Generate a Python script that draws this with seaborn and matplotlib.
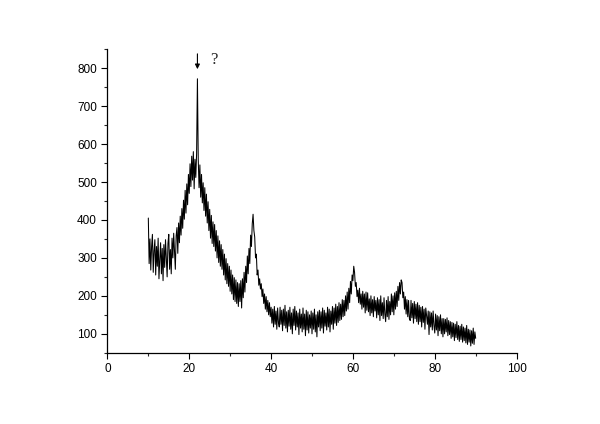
import numpy as np
import pandas as pd
import matplotlib
matplotlib.use("Agg")
import matplotlib.pyplot as plt
from matplotlib.ticker import MultipleLocator
import seaborn as sns

# scan range 10-90 deg, step 0.2
two_theta = np.round(np.arange(10.0, 90.01, 0.2), 1)

intensity = [
    405, 285, 350, 268, 330, 362, 262, 318, 348, 255,
    330, 278, 352, 245, 296, 340, 258, 325, 240, 335,
    275, 348, 300, 250, 338, 362, 270, 322, 258, 352,
    300, 365, 318, 270, 358, 380, 312, 392, 340, 410,
    360, 430, 378, 452, 402, 478, 418, 495, 440, 520,
    470, 548, 488, 568, 505, 580, 482, 560, 512, 575,
    772, 560, 485, 545, 460, 520, 445, 498, 425, 485,
    410, 468, 392, 448, 372, 428, 352, 412, 338, 395,
    330, 388, 318, 372, 300, 358, 288, 345, 278, 335,
    270, 322, 255, 310, 242, 298, 232, 285, 225, 278,
    212, 268, 205, 255, 190, 248, 185, 242, 180, 235,
    172, 232, 185, 240, 168, 245, 195, 262, 210, 278,
    235, 305, 258, 325, 285, 360, 330, 390, 415, 372,
    355, 300, 310, 255, 268, 228, 245, 218, 232, 198,
    218, 180, 205, 165, 198, 158, 188, 150, 182, 145,
    170, 128, 165, 118, 172, 125, 160, 112, 168, 130,
    118, 170, 125, 162, 108, 165, 122, 175, 115, 158,
    105, 162, 120, 170, 112, 155, 100, 165, 122, 172,
    110, 160, 118, 155, 98, 165, 115, 152, 105, 168,
    112, 152, 95, 162, 110, 158, 102, 150, 115, 160,
    100, 155, 112, 165, 105, 150, 92, 158, 118, 162,
    108, 158, 115, 168, 102, 162, 120, 155, 110, 170,
    118, 165, 105, 160, 125, 172, 112, 168, 128, 178,
    122, 172, 130, 182, 135, 178, 138, 190, 145, 188,
    148, 200, 160, 210, 165, 220, 182, 238, 205, 255,
    240, 278, 262, 225, 235, 198, 215, 182, 220, 178,
    205, 165, 212, 170, 205, 155, 210, 162, 208, 158,
    192, 148, 200, 155, 190, 145, 198, 160, 188, 142,
    195, 150, 190, 135, 200, 148, 182, 140, 195, 152,
    132, 188, 145, 198, 138, 185, 150, 205, 158, 200,
    150, 208, 165, 212, 172, 225, 188, 235, 205, 242,
    235, 195, 210, 165, 198, 152, 190, 145, 188, 140,
    135, 188, 142, 180, 128, 185, 140, 178, 132, 182,
    125, 175, 132, 170, 118, 172, 130, 165, 112, 168,
    148, 125, 160, 98, 158, 118, 155, 110, 160, 122,
    102, 152, 110, 148, 95, 145, 108, 150, 100, 140,
    92, 140, 100, 138, 105, 142, 95, 135, 98, 132,
    88, 130, 92, 128, 82, 125, 90, 132, 85, 122,
    80, 120, 85, 125, 78, 118, 82, 115, 76, 122,
    72, 112, 78, 110, 68, 108, 75, 115, 72, 105,
    88,
]

x_ticks = [0, 20, 40, 60, 80, 100]
y_ticks = [100, 200, 300, 400, 500, 600, 700, 800]

peak_x = 22.0
peak_label = "?"

sns.set_style("ticks")
plt.rcParams["font.family"] = ["Liberation Sans", "DejaVu Sans"]

df = pd.DataFrame({"two_theta": two_theta, "intensity": intensity})

fig = plt.figure(figsize=(6.0, 4.24), dpi=100)
ax = fig.add_axes([0.179, 0.168, 0.682, 0.716])

sns.lineplot(data=df, x="two_theta", y="intensity", ax=ax,
             color="black", linewidth=0.75, sort=False)

ax.set_xlim(0, 100)
ax.set_ylim(50, 850)
ax.set_xticks(x_ticks)
ax.set_yticks(y_ticks)
ax.xaxis.set_minor_locator(MultipleLocator(10))
ax.yaxis.set_minor_locator(MultipleLocator(50))
ax.tick_params(which="major", direction="out", length=4, width=0.8,
               labelsize=8.5, colors="black")
ax.tick_params(which="minor", direction="out", length=2.5, width=0.8)
ax.set_xlabel("")
ax.set_ylabel("")
for side in ["top", "right"]:
    ax.spines[side].set_visible(False)
for side in ["left", "bottom"]:
    ax.spines[side].set_linewidth(0.9)
    ax.spines[side].set_color("black")

# arrow marking the sharp peak
ax.annotate("", xy=(peak_x, 790), xytext=(peak_x, 845),
            arrowprops=dict(arrowstyle="-|>", color="black", lw=0.8,
                            mutation_scale=7),
            annotation_clip=False)
ax.text(25.0, 822, peak_label, fontsize=12, family="Liberation Serif",
        ha="left", va="center")

fig.savefig("out.png", dpi=100)
